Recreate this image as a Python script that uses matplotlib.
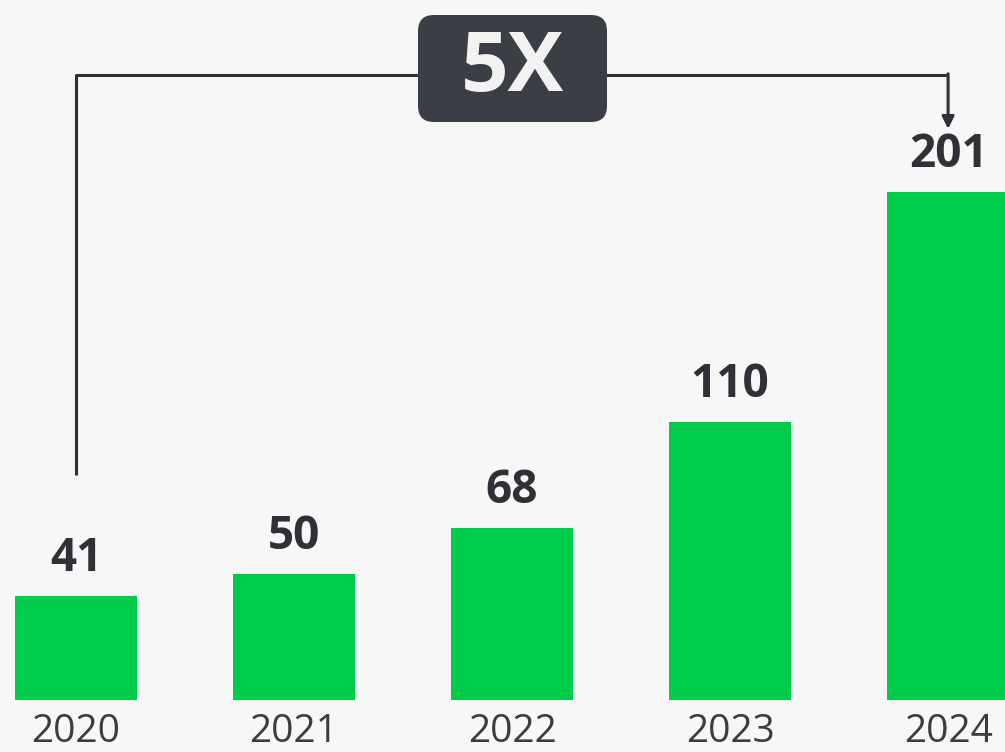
import matplotlib
matplotlib.use("Agg")
import matplotlib.pyplot as plt
from matplotlib.patches import FancyBboxPatch
from matplotlib.transforms import IdentityTransform

years = ["2020", "2021", "2022", "2023", "2024"]
values = [41, 50, 68, 110, 201]
growth_label = "5X"

bg = "#f7f7f7"
green = "#00cc4c"
dark = "#2f3136"

plt.rcParams["font.family"] = ["Open Sans", "DejaVu Sans"]

fig = plt.figure(figsize=(10.05, 7.52), dpi=100, facecolor=bg)
ax = fig.add_axes([0, 0, 1, 1])
ax.set_facecolor(bg)

x = list(range(len(years)))
ax.bar(x, values, width=0.56, color=green)

# value labels above bars
for xi, v in zip(x, values):
    ax.annotate(str(v), (xi, v), xytext=(0, 27), textcoords="offset points",
                ha="center", va="center", fontsize=33, fontweight="bold", color=dark)

# year labels under bars
for xi, yr in zip(x, years):
    ax.text(xi, -12.6, yr, ha="center", va="center", fontsize=28, color="#3a3c40")

ax.set_xlim(-0.3486, 4.261)
ax.set_ylim(-20.6, 277)
ax.axis("off")

# connector from first bar to last bar
top = 247.3
ax.plot([x[0], x[0], x[-1]], [89, top, top], color=dark, lw=2.2, solid_capstyle="butt")
ax.annotate("", xy=(x[-1], 226), xytext=(x[-1], top + 0.5),
            arrowprops=dict(arrowstyle="-|>", color=dark, lw=2.2,
                            mutation_scale=18, shrinkA=0, shrinkB=0))

# growth badge
box = FancyBboxPatch((418 + 12, 630 + 12), 189 - 24, 107 - 24,
                     boxstyle="round,pad=12,rounding_size=16",
                     transform=IdentityTransform(), facecolor="#3b3e45",
                     edgecolor="none", zorder=5)
fig.patches.append(box)
fig.text(512.5 / 1005, 1 - 70 / 752, growth_label, ha="center", va="center",
         fontsize=60, fontweight="bold", color="#f2f2f2", zorder=6)

fig.savefig("out.png", dpi=100, facecolor=bg)
